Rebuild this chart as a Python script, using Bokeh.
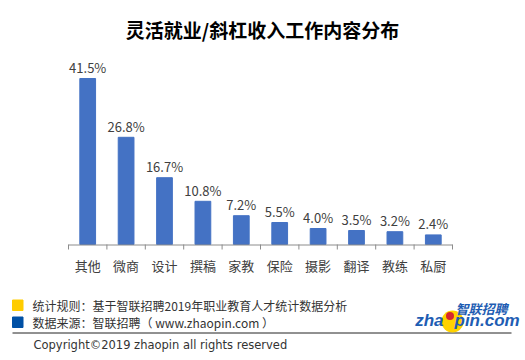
from bokeh.plotting import figure
from bokeh.models import Range1d, ColumnDataSource
from bokeh.core.properties import value
from bokeh.embed import file_html
from bokeh.resources import INLINE

# ---------------- data ----------------
title_text = "灵活就业/斜杠收入工作内容分布"
categories = ["其他", "微商", "设计", "撰稿", "家教", "保险", "摄影", "翻译", "教练", "私厨"]
shares = [41.5, 26.8, 16.7, 10.8, 7.2, 5.5, 4.0, 3.5, 3.2, 2.4]
share_labels = [f"{v:.1f}%" for v in shares]
note_rule = "统计规则：基于智联招聘2019年职业教育人才统计数据分析"
note_source = "数据来源：智联招聘（ www.zhaopin.com ）"
copyright_text = "Copyright©2019 zhaopin all rights reserved"
logo_cn = "智联招聘"

# ---------------- layout constants (page pixels) ----------------
W, H, OFF = 525, 360, 0
AXIS_LEFT, AXIS_RIGHT, BASE_Y = 68, 452, 244
PX_PER_PCT = 4.0
n = len(categories)
unit = (AXIS_RIGHT - AXIS_LEFT) / n

CJK = value("Noto Sans CJK SC")

p = figure(width=W, height=H, output_backend="svg", toolbar_location=None,
           x_range=Range1d(OFF, OFF + W), y_range=Range1d(OFF + H, OFF),
           x_axis_location=None, y_axis_location=None, min_border=0,
           outline_line_color=None, background_fill_color="white",
           border_fill_color="white")
p.grid.visible = False

p.extra_x_ranges = {"bar": Range1d((OFF - AXIS_LEFT) / unit, (OFF + W - AXIS_LEFT) / unit)}
p.extra_y_ranges = {"bar": Range1d(-(OFF + H - BASE_Y) / PX_PER_PCT, (BASE_Y - OFF) / PX_PER_PCT)}

xs = [i + 0.5 for i in range(n)]
src = ColumnDataSource(dict(x=xs, top=shares, cat=categories, lab=share_labels))

# bars
p.vbar(x="x", top="top", bottom=0, width=0.41, source=src, color="#4472C4",
       x_range_name="bar", y_range_name="bar")
# value labels
p.text(x="x", y="top", text="lab", source=src, x_range_name="bar", y_range_name="bar",
       text_align="center", text_baseline="alphabetic", y_offset=-11,
       text_font=CJK, text_font_size="13px", text_color="#404040")
# category labels
p.text(x="x", y=0, text="cat", source=src, x_range_name="bar", y_range_name="bar",
       text_align="center", text_baseline="middle", y_offset=20.5,
       text_font=CJK, text_font_size="13px", text_color="#404040")

# axis line and boundary ticks (x in category space, y in page pixels)
p.segment(x0=[0], x1=[n], y0=[BASE_Y + 0.5], y1=[BASE_Y + 0.5], x_range_name="bar",
          line_color="#8c8c8c", line_width=1)
bounds = list(range(n + 1))
p.segment(x0=bounds, x1=bounds, y0=[BASE_Y] * (n + 1), y1=[BASE_Y + 5] * (n + 1),
          x_range_name="bar", line_color="#8c8c8c", line_width=1)

# title
p.text(x=[262], y=[29], text=[title_text], text_align="center", text_baseline="middle",
       text_font=CJK, text_font_size="19px", text_font_style="bold", text_color="#000000")

# footer
p.quad(left=[12], right=[22.5], top=[299.5], bottom=[310], color="#FFCC00")
p.quad(left=[12], right=[22.5], top=[316.5], bottom=[327], color="#0050A5")
p.text(x=[32, 32], y=[305, 322], text=[note_rule, note_source], text_baseline="middle",
       text_font=CJK, text_font_size="12px", text_color="#333333")
p.segment(x0=[12], x1=[511], y0=[332.5], y1=[332.5], line_color="#222222", line_width=1)
p.text(x=[33], y=[344], text=[copyright_text], text_baseline="middle",
       text_font=value("DejaVu Sans"), text_font_size="11.5px", text_color="#333333")

# logo
p.scatter(x=[452], y=[321], size=22, marker="circle", color="#FFD200", line_color=None)
p.scatter(x=[449.5], y=[315.5], size=8, marker="circle", color="#D7262E", line_color=None)
p.text(x=[481], y=[307.5], text=[logo_cn], text_align="center", text_baseline="alphabetic",
       text_font=CJK, text_font_size="13px", text_font_style="bold italic", text_color="#1E5DB3")
p.text(x=[443], y=[320], text=["zha"], text_align="right", text_baseline="alphabetic",
       text_font=value("Liberation Sans"), text_font_size="17px", text_font_style="bold italic",
       text_color="#1E5DB3")
p.text(x=[454], y=[320], text=["pin.com"], text_align="left", text_baseline="alphabetic",
       text_font=value("Liberation Sans"), text_font_size="17px", text_font_style="bold italic",
       text_color="#1E5DB3")

open("out.html", "w").write(file_html(p, INLINE))
